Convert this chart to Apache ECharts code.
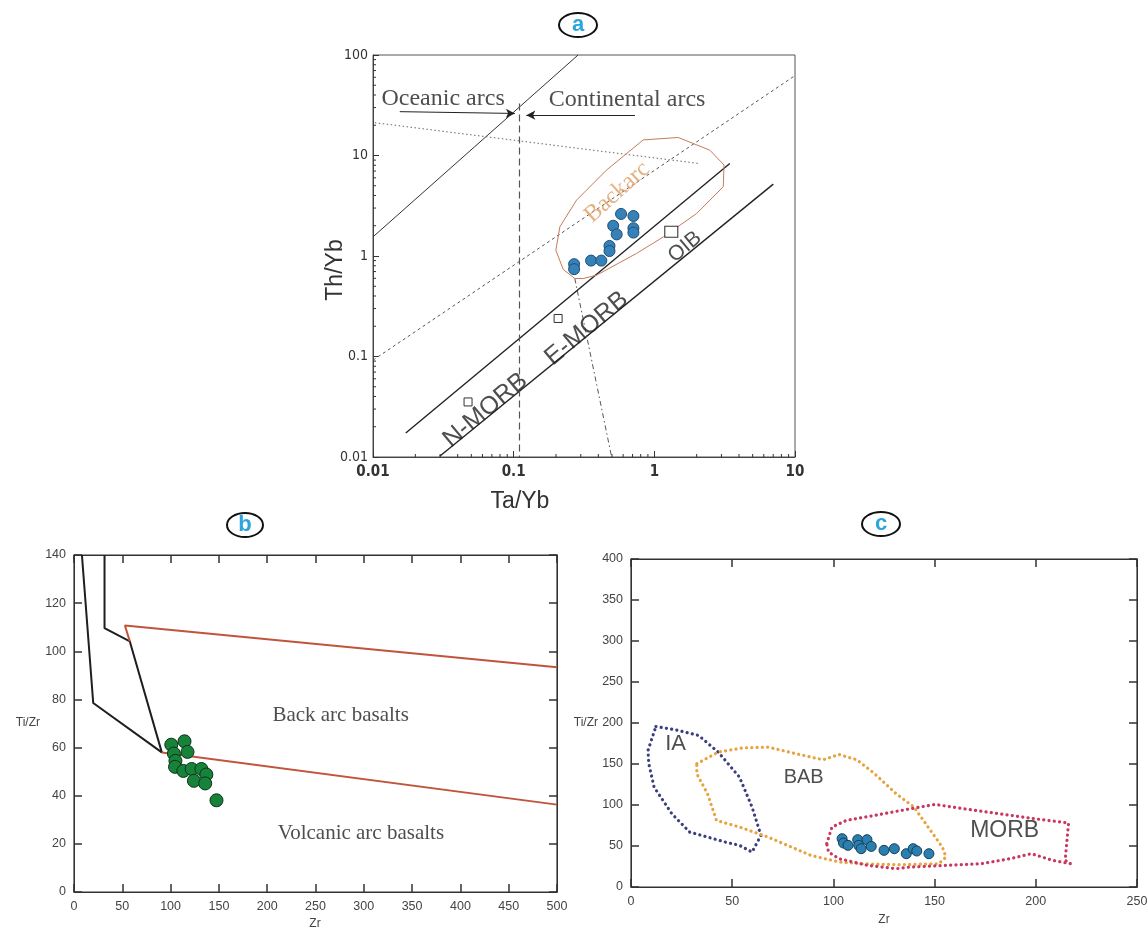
<!DOCTYPE html>
<html><head><meta charset="utf-8">
<script src="https://cdn.jsdelivr.net/npm/echarts@6/dist/echarts.min.js"></script>
<style>html,body{margin:0;padding:0;background:#fff}#c{width:1148px;height:931px}</style>
</head><body><div id="c"></div>
<script>
// ---------- Panel a : Th/Yb vs Ta/Yb (log-log) ----------
const aSampleTaYb = [0.269, 0.269, 0.355, 0.42, 0.48, 0.48, 0.51, 0.54, 0.58, 0.71, 0.71, 0.71];
const aSampleThYb = [0.83, 0.74, 0.90, 0.90, 1.26, 1.12, 2.0, 1.64, 2.62, 2.50, 1.89, 1.71];
const aRefNames = ['N-MORB', 'E-MORB', 'OIB'];
const aRefTaYb = [0.0474, 0.207, 1.32];
const aRefThYb = [0.0353, 0.239, 1.74];
const aArcUpperLine = [[0.01, 1.55], [0.287, 100]];
const aMantleUpper = [[0.0171, 0.0173], [3.44, 8.34]];
const aMantleLower = [[0.0298, 0.01016], [7.01, 5.19]];
const aArcDivider = [[0.11, 33], [0.11, 0.01]];
const aDottedLine = [[0.0103, 21.2], [2.05, 8.34]];
const aDashedLine = [[0.01, 0.092], [9.73, 60.8]];
const aDashDotLine = [[0.272, 0.597], [0.497, 0.01]];
const aBackarcField = [[0.272, 0.597], [0.225, 0.735], [0.1995, 1.14], [0.213, 1.95], [0.280, 3.60], [0.457, 7.16], [0.834, 14.3], [1.48, 15.1], [2.48, 11.3], [3.13, 8.04], [3.09, 4.89], [2.0, 2.65], [1.16, 1.55], [0.747, 1.06], [0.388, 0.644], [0.312, 0.597], [0.272, 0.597]];
const aOceanicArrow = [[0.0155, 27.3], [0.102, 26.2]];
const aContinentalArrow = [[0.728, 25.2], [0.123, 25.2]];
const aLabelTexts = ['Oceanic arcs', 'Continental arcs', 'Backarc', 'N-MORB', 'E-MORB', 'OIB'];
const aLabelTaYb = [0.0315, 0.64, 0.545, 0.063, 0.33, 1.65];
const aLabelThYb = [36.5, 35.5, 4.3, 0.0292, 0.19, 1.23];
const aXTicks = [0.01, 0.1, 1, 10];
const aYTicks = [0.01, 0.1, 1, 10, 100];
const logMinorMultipliers = [2, 3, 4, 5, 6, 7, 8, 9];

// ---------- Panel b : Ti/Zr vs Zr ----------
const bZr = [100.7, 114.4, 117.5, 103.4, 105, 104.6, 113.2, 121.8, 131.9, 137, 124.1, 135.8, 147.5];
const bTiZr = [61.2, 62.6, 58.2, 57.5, 54.5, 52.0, 50.3, 51.1, 51.1, 48.8, 46.2, 45.1, 38.1];
const bBoundary1 = [[8.2, 140], [19.9, 78.5], [90.9, 58.0]];
const bBoundary2 = [[31.6, 140], [31.6, 109.6], [57.8, 104.1], [90.9, 58.0]];
const bUpperRed = [[57.8, 104.1], [52.7, 110.7], [500, 93.4]];
const bLowerRed = [[90.9, 58.0], [500, 36.3]];
const bLabelTexts = ['Back arc basalts', 'Volcanic arc basalts'];
const bLabelZr = [276, 297];
const bLabelTiZr = [73.2, 24.3];

// ---------- Panel c : Ti/Zr vs Zr ----------
const cZr = [104.3, 105, 107.2, 112, 112.5, 113.7, 116.6, 118.7, 125, 130.1, 136, 139.4, 141.2, 147.2];
const cTiZr = [58.9, 53.6, 50.8, 57.7, 50.8, 46.7, 57.7, 49.5, 44.7, 46.7, 40.6, 46.7, 43.9, 40.6];
const cIAField = [[12.3, 195.7], [22.0, 191.7], [33.4, 184.8], [43.1, 164.5], [53.6, 134.0], [59.8, 97.5], [64.2, 62.9], [59.8, 42.6], [53.6, 50.8], [46.6, 54.8], [29.0, 67.0], [20.2, 89.3], [11.4, 121.8], [8.8, 150.3], [8.4, 166.5], [12.3, 195.7]];
const cBABField = [[32.5, 150.3], [43.1, 164.5], [55.4, 169.7], [67.7, 170.6], [81.8, 162.4], [94.9, 155.1], [102.8, 161.6], [111.6, 155.1], [120.4, 138.1], [131.0, 113.7], [139.8, 97.5], [146.8, 73.1], [153.8, 48.7], [155.6, 36.5], [152.1, 28.4], [132.7, 27.2], [113.4, 28.4], [102.8, 30.5], [88.8, 38.6], [67.7, 60.9], [53.6, 73.1], [42.2, 81.2], [37.8, 113.7], [32.5, 138.1], [32.5, 150.3]];
const cMORBField = [[96.7, 52.8], [99.3, 73.1], [106.4, 81.2], [120.4, 87.3], [138.0, 95.4], [150.3, 100.7], [164.4, 95.4], [182.0, 89.3], [199.5, 83.2], [216.2, 78.0], [214.5, 32.5], [217.1, 28.4], [208.3, 32.5], [197.8, 40.6], [187.2, 34.5], [173.2, 28.4], [155.6, 26.4], [138.0, 24.4], [131.0, 22.3], [116.9, 26.4], [102.8, 34.5], [97.6, 42.6], [96.7, 52.8]];
const cLabelTexts = ['IA', 'BAB', 'MORB'];
const cLabelZr = [22, 85.3, 184.6];
const cLabelTiZr = [174.6, 134, 69];

// ---------- build ----------
const SANS = "'Liberation Sans', Arial, sans-serif";
const SERIF = "'Liberation Serif', 'Times New Roman', serif";
const NARROW = "'Liberation Sans Narrow', 'DejaVu Sans Condensed', sans-serif";

const chart = echarts.init(document.getElementById('c'), null, {renderer: 'canvas'});

function lineSeries(data, xi, yi, color, width, type, extra) {
  return Object.assign({
    type: 'line', xAxisIndex: xi, yAxisIndex: yi, data: data, showSymbol: false, symbol: 'none',
    silent: true, smooth: false, z: 2,
    lineStyle: {color: color, width: width, type: type || 'solid'}
  }, extra || {});
}
function dotted(data, color) {
  return lineSeries(data, 3, 3, color, 3.2, [0.1, 5.2], {lineStyle: {color: color, width: 3.2, type: [0.1, 5.2], cap: 'round', join: 'round'}});
}
function pts(xs, ys) { return xs.map((x, i) => [x, ys[i]]); }
function valAxis(gi, min, max, interval, pos, labels) {
  return {
    type: 'value', gridIndex: gi, min: min, max: max, interval: interval, position: pos,
    axisLine: {show: true, onZero: false, lineStyle: {color: '#333', width: 1}},
    axisTick: {show: true, inside: true, length: 8, lineStyle: {color: '#333', width: 1.5}},
    axisLabel: {show: labels, color: '#444', fontSize: 12.5, fontFamily: SANS, margin: 8},
    splitLine: {show: false}
  };
}
function labelSeries(texts, xs, ys, xi, yi, styles) {
  return {
    type: 'scatter', xAxisIndex: xi, yAxisIndex: yi, silent: true, symbolSize: 1, z: 5,
    itemStyle: {color: 'rgba(0,0,0,0)'},
    data: texts.map((t, i) => ({
      name: t, value: [xs[i], ys[i]],
      label: Object.assign({show: true, position: 'inside', formatter: '{b}', align: 'center', verticalAlign: 'middle'}, styles[i])
    }))
  };
}

const logAxisCommon = {
  type: 'log', logBase: 10, gridIndex: 0,
  axisLine: {show: true, onZero: false, lineStyle: {color: '#444', width: 1}},
  axisTick: {show: true, inside: true, length: 6, lineStyle: {color: '#333'}},
  splitLine: {show: false}
};

const option = {
  animation: false,
  backgroundColor: '#fff',
  grid: [
    {left: 373, top: 55, width: 422, height: 402, show: true, borderColor: '#555', borderWidth: 1, outerBoundsMode: 'none', containLabel: false},
    {left: 74, top: 555, width: 483, height: 337, show: true, borderColor: '#333', borderWidth: 1.2, outerBoundsMode: 'none', containLabel: false},
    {left: 631, top: 559, width: 506, height: 328, show: true, borderColor: '#333', borderWidth: 1.2, outerBoundsMode: 'none', containLabel: false}
  ],
  xAxis: [
    Object.assign({}, logAxisCommon, {min: aXTicks[0], max: aXTicks[aXTicks.length - 1], position: 'bottom',
      axisLabel: {color: '#333', fontSize: 15, fontWeight: 'bold', fontFamily: NARROW, margin: 8, formatter: v => String(+(+v).toPrecision(3))}}),
    valAxis(1, 0, 500, 50, 'bottom', true),
    valAxis(1, 0, 500, 50, 'top', false),
    valAxis(2, 0, 250, 50, 'bottom', true),
    valAxis(2, 0, 250, 50, 'top', false)
  ],
  yAxis: [
    Object.assign({}, logAxisCommon, {min: aYTicks[0], max: aYTicks[aYTicks.length - 1], position: 'left',
      axisLabel: {color: '#333', fontSize: 14, fontFamily: NARROW, margin: 5, formatter: v => String(+(+v).toPrecision(3))}}),
    valAxis(1, 0, 140, 20, 'left', true),
    valAxis(1, 0, 140, 20, 'right', false),
    valAxis(2, 0, 400, 50, 'left', true),
    valAxis(2, 0, 400, 50, 'right', false)
  ],
  series: [
    // ----- panel a -----
    {
      type: 'custom', xAxisIndex: 0, yAxisIndex: 0, silent: true, clip: false, z: 3,
      data: aYTicks.slice(0, -1).flatMap(d => logMinorMultipliers.map(m => [aXTicks[0], d * m, 0])).concat(
            aXTicks.slice(0, -1).flatMap(d => logMinorMultipliers.map(m => [d * m, aYTicks[0], 1]))),
      renderItem: function (params, api) {
        const cs = params.coordSys;
        const p = api.coord([api.value(0), api.value(1)]);
        if (api.value(2) === 0) {
          return {type: 'line', shape: {x1: cs.x, y1: p[1], x2: cs.x + 3, y2: p[1]}, style: {stroke: '#333', lineWidth: 1}};
        }
        return {type: 'line', shape: {x1: p[0], y1: cs.y + cs.height, x2: p[0], y2: cs.y + cs.height - 3}, style: {stroke: '#333', lineWidth: 1}};
      }
    },
    lineSeries(aArcUpperLine, 0, 0, '#333', 1),
    lineSeries(aMantleUpper, 0, 0, '#222', 1.4),
    lineSeries(aMantleLower, 0, 0, '#222', 1.4),
    lineSeries(aArcDivider, 0, 0, '#555', 1.2, [7, 4]),
    lineSeries(aDottedLine, 0, 0, '#666', 1, [1.5, 2.5]),
    lineSeries(aDashedLine, 0, 0, '#555', 1, [3, 3]),
    lineSeries(aDashDotLine, 0, 0, '#555', 1, [5, 3, 1.5, 3]),
    lineSeries(aBackarcField, 0, 0, '#c77a5c', 1),
    lineSeries([], 0, 0, '#222', 1, 'solid', {
      markLine: {
        silent: true, symbol: ['none', 'arrow'], symbolSize: [7, 9],
        label: {show: false},
        lineStyle: {color: '#222', width: 1, type: 'solid'},
        data: [
          [{coord: aOceanicArrow[0]}, {coord: aOceanicArrow[1]}],
          [{coord: aContinentalArrow[0]}, {coord: aContinentalArrow[1]}]
        ]
      }
    }),
    {
      type: 'scatter', xAxisIndex: 0, yAxisIndex: 0, silent: true, z: 4,
      symbol: 'rect',
      data: aRefNames.map((n, i) => ({name: n, value: [aRefTaYb[i], aRefThYb[i]], symbolSize: i === 2 ? [13, 11] : [8, 8]})),
      itemStyle: {color: '#fff', borderColor: '#333', borderWidth: 1, opacity: 1}
    },
    {
      type: 'scatter', xAxisIndex: 0, yAxisIndex: 0, silent: true, z: 6,
      symbol: 'circle', symbolSize: 11,
      data: pts(aSampleTaYb, aSampleThYb),
      itemStyle: {color: '#3682b8', borderColor: '#1d4f78', borderWidth: 1, opacity: 1}
    },
    labelSeries(aLabelTexts, aLabelTaYb, aLabelThYb, 0, 0, [
      {fontFamily: SERIF, fontSize: 24, color: '#222'},
      {fontFamily: SERIF, fontSize: 24, color: '#222'},
      {fontFamily: SERIF, fontSize: 24, color: '#e09c62', rotate: 42},
      {fontFamily: SANS, fontSize: 25, color: '#222', rotate: 40},
      {fontFamily: SANS, fontSize: 25, color: '#222', rotate: 40},
      {fontFamily: SANS, fontSize: 21, color: '#222', rotate: 40}
    ]),
    // ----- panel b -----
    lineSeries(bBoundary1, 1, 1, '#1e1e1e', 2),
    lineSeries(bBoundary2, 1, 1, '#1e1e1e', 2),
    lineSeries(bUpperRed, 1, 1, '#c0553c', 2),
    lineSeries(bLowerRed, 1, 1, '#c0553c', 2),
    {
      type: 'scatter', xAxisIndex: 1, yAxisIndex: 1, silent: true, z: 6,
      symbol: 'circle', symbolSize: 13,
      data: pts(bZr, bTiZr),
      itemStyle: {color: '#17833a', borderColor: '#0a3316', borderWidth: 1, opacity: 1}
    },
    labelSeries(bLabelTexts, bLabelZr, bLabelTiZr, 1, 1, [
      {fontFamily: SERIF, fontSize: 21, color: '#222'},
      {fontFamily: SERIF, fontSize: 21, color: '#222'}
    ]),
    // ----- panel c -----
    dotted(cIAField, '#3b3f7e'),
    dotted(cBABField, '#e6a43e'),
    dotted(cMORBField, '#c9375f'),
    {
      type: 'scatter', xAxisIndex: 3, yAxisIndex: 3, silent: true, z: 6,
      symbol: 'circle', symbolSize: 10,
      data: pts(cZr, cTiZr),
      itemStyle: {color: '#2a7fae', borderColor: '#123f5c', borderWidth: 1, opacity: 1}
    },
    labelSeries(cLabelTexts, cLabelZr, cLabelTiZr, 3, 3, [
      {fontFamily: SANS, fontSize: 22, color: '#222'},
      {fontFamily: SANS, fontSize: 20, color: '#222'},
      {fontFamily: SANS, fontSize: 23, color: '#222'}
    ])
  ],
  graphic: [
    // panel badges
    {type: 'ellipse', shape: {cx: 578, cy: 25, rx: 19, ry: 12}, style: {fill: '#fff', stroke: '#111', lineWidth: 2}},
    {type: 'text', x: 578, y: 25, style: {text: 'a', fill: '#2aa5de', font: 'bold 22px ' + SANS, align: 'center', verticalAlign: 'middle', textAlign: 'center', textVerticalAlign: 'middle'}},
    {type: 'ellipse', shape: {cx: 245, cy: 525, rx: 18, ry: 12}, style: {fill: '#fff', stroke: '#111', lineWidth: 2}},
    {type: 'text', x: 245, y: 525, style: {text: 'b', fill: '#2aa5de', font: 'bold 22px ' + SANS, align: 'center', verticalAlign: 'middle', textAlign: 'center', textVerticalAlign: 'middle'}},
    {type: 'ellipse', shape: {cx: 881, cy: 524, rx: 19, ry: 12}, style: {fill: '#fff', stroke: '#111', lineWidth: 2}},
    {type: 'text', x: 881, y: 524, style: {text: 'c', fill: '#2aa5de', font: 'bold 22px ' + SANS, align: 'center', verticalAlign: 'middle', textAlign: 'center', textVerticalAlign: 'middle'}},
    // axis titles
    {type: 'text', x: 336, y: 270, rotation: Math.PI / 2, style: {text: 'Th/Yb', fill: '#333', font: '23px ' + SANS, align: 'center', verticalAlign: 'middle', textAlign: 'center', textVerticalAlign: 'middle'}},
    {type: 'text', x: 520, y: 502, style: {text: 'Ta/Yb', fill: '#333', font: '23px ' + SANS, align: 'center', verticalAlign: 'middle', textAlign: 'center', textVerticalAlign: 'middle'}},
    {type: 'text', x: 40, y: 723, style: {text: 'Ti/Zr', fill: '#444', font: '12px ' + SANS, align: 'right', verticalAlign: 'middle', textAlign: 'right', textVerticalAlign: 'middle'}},
    {type: 'text', x: 315, y: 924, style: {text: 'Zr', fill: '#444', font: '12px ' + SANS, align: 'center', verticalAlign: 'middle', textAlign: 'center', textVerticalAlign: 'middle'}},
    {type: 'text', x: 598, y: 723, style: {text: 'Ti/Zr', fill: '#444', font: '12px ' + SANS, align: 'right', verticalAlign: 'middle', textAlign: 'right', textVerticalAlign: 'middle'}},
    {type: 'text', x: 884, y: 920, style: {text: 'Zr', fill: '#444', font: '12px ' + SANS, align: 'center', verticalAlign: 'middle', textAlign: 'center', textVerticalAlign: 'middle'}}
  ]
};
chart.setOption(option);
</script></body></html>
